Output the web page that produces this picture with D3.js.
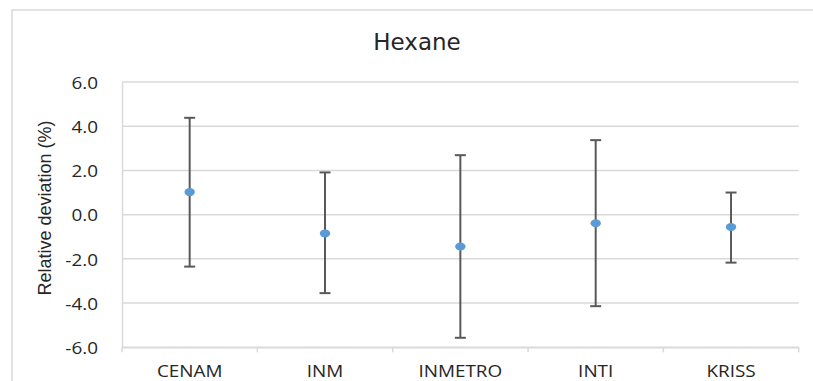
<!DOCTYPE html>
<html>
<head>
<meta charset="utf-8">
<script src="https://cdn.jsdelivr.net/npm/d3@7"></script>
<style>
  body { margin: 0; background: #fff; }
  .lbl { font-family: "Open Sans", sans-serif; font-size: 15.5px; fill: #262626;
         transform-box: fill-box; transform: scaleX(1.22); }
  .ylbl { transform-origin: right center; }
  .xlbl { transform-origin: center center; }
</style>
</head>
<body>
<div id="chart"></div>
<script>
const labs = ["CENAM", "INM", "INMETRO", "INTI", "KRISS"];
const values = [1.02, -0.85, -1.44, -0.39, -0.56];
const upper = [4.38, 1.91, 2.69, 3.37, 1.0];
const lower = [-2.35, -3.55, -5.57, -4.14, -2.17];
const yTicks = [-6, -4, -2, 0, 2, 4, 6];

const W = 813, H = 381;
const plot = { left: 122, right: 798.7, top: 82, bottom: 347.3 };

const svg = d3.select("#chart").append("svg")
  .attr("width", W).attr("height", H);

// outer chart frame (only top and left visible in the crop)
svg.append("rect")
  .attr("x", 12).attr("y", 10)
  .attr("width", W + 20).attr("height", H + 20)
  .attr("fill", "none").attr("stroke", "#d9d9d9").attr("stroke-width", 1.5);

const x = d3.scaleBand().domain(labs).range([plot.left, plot.right]).padding(0);
const y = d3.scaleLinear().domain([-6, 6]).range([plot.bottom, plot.top]);

// gridlines
svg.append("g").selectAll("line").data(yTicks).join("line")
  .attr("x1", plot.left).attr("x2", plot.right)
  .attr("y1", d => y(d)).attr("y2", d => y(d))
  .attr("stroke", "#d9d9d9").attr("stroke-width", 1.5);

// y axis
const ya = svg.append("g").attr("transform", "translate(" + plot.left + ",0)")
  .call(d3.axisLeft(y).tickValues(yTicks).tickSize(0).tickPadding(24)
    .tickFormat(d => d.toFixed(1)));
ya.select(".domain").attr("stroke", "#d9d9d9").attr("stroke-width", 1.5);
ya.selectAll("text").attr("class", "lbl ylbl").attr("dy", "0.4em");

// x axis
const xa = svg.append("g").attr("transform", "translate(0," + plot.bottom + ")")
  .call(d3.axisBottom(x).tickSize(0).tickPadding(19));
xa.select(".domain").attr("stroke", "#d9d9d9").attr("stroke-width", 1.5);
xa.selectAll("text").attr("class", "lbl xlbl");

// category boundary ticks
const bounds = labs.map(d => x(d)).concat([plot.right]);
svg.append("g").selectAll("line").data(bounds).join("line")
  .attr("x1", d => d).attr("x2", d => d)
  .attr("y1", plot.bottom).attr("y2", plot.bottom + 5)
  .attr("stroke", "#d9d9d9").attr("stroke-width", 1.5);

// y title
svg.append("text")
  .attr("transform", "translate(51,208) rotate(-90)")
  .attr("text-anchor", "middle")
  .style("font-family", "'Liberation Sans', Arial, sans-serif")
  .style("font-size", "18px").style("fill", "#262626")
  .text("Relative deviation (%)");

// title
svg.append("text")
  .attr("x", 417).attr("y", 50)
  .attr("text-anchor", "middle")
  .style("font-family", "'DejaVu Sans', sans-serif")
  .style("font-size", "23px").style("fill", "#262626")
  .text("Hexane");

const cx = (i) => x(labs[i]) + x.bandwidth() / 2;

// error bars
const eb = svg.append("g").attr("stroke", "#595959").attr("stroke-width", 2);
labs.forEach((d, i) => {
  eb.append("line").attr("x1", cx(i)).attr("x2", cx(i))
    .attr("y1", y(upper[i])).attr("y2", y(lower[i]));
  [upper[i], lower[i]].forEach(v => {
    eb.append("line").attr("x1", cx(i) - 5.5).attr("x2", cx(i) + 5.5)
      .attr("y1", y(v)).attr("y2", y(v));
  });
});

// points
svg.append("g").selectAll("ellipse").data(values).join("ellipse")
  .attr("cx", (d, i) => cx(i)).attr("cy", d => y(d))
  .attr("rx", 5.2).attr("ry", 4)
  .attr("fill", "#5b9bd5");
</script>
</body>
</html>
